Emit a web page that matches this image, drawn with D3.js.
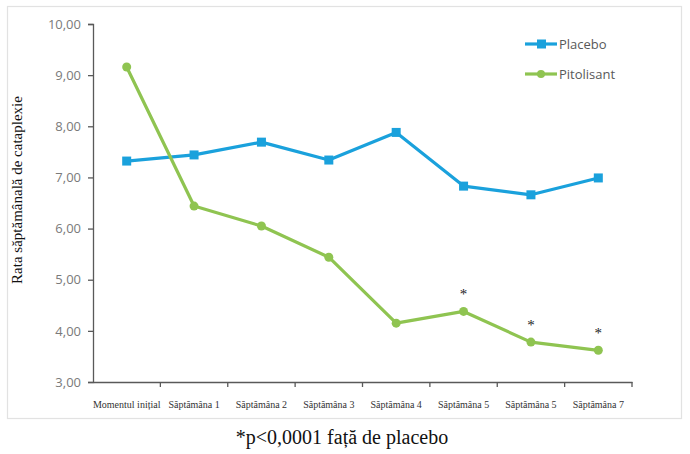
<!DOCTYPE html>
<html><head><meta charset="utf-8">
<script src="https://cdn.jsdelivr.net/npm/d3@7"></script>
<style>body{margin:0;background:#fff}</style>
</head><body>
<script>
const categories = ["Momentul inițial","Săptămâna 1","Săptămâna 2","Săptămâna 3","Săptămâna 4","Săptămâna 5","Săptămâna 5","Săptămâna 7"];
const placebo = [7.32, 7.44, 7.69, 7.34, 7.88, 6.83, 6.66, 6.99];
const pitolisant = [9.16, 6.44, 6.05, 5.44, 4.15, 4.38, 3.78, 3.62];
const significant = [false, false, false, false, false, true, true, true];
const yTicks = [3,4,5,6,7,8,9,10];
const seriesNames = ["Placebo","Pitolisant"];

const W = 690, H = 454;
const svg = d3.select("body").append("svg").attr("width", W).attr("height", H);

svg.append("rect").attr("x",7.5).attr("y",6.5).attr("width",674).attr("height",412)
  .attr("fill","none").attr("stroke","#e2e2e2").attr("stroke-width",1.2);

const x = d3.scaleBand().domain(d3.range(categories.length)).range([93, 632]);
const y = d3.scaleLinear().domain([3,10]).range([382, 24]);
const cx = i => x(i) + x.bandwidth()/2;

const fmt = v => d3.format(".2f")(v).replace(".", ",");

// y axis
const ya = svg.append("g").attr("transform","translate(93,0)")
  .call(d3.axisLeft(y).tickValues(yTicks).tickFormat(fmt).tickSizeOuter(0).tickSize(5).tickPadding(7));
ya.select(".domain").attr("stroke","#595959").attr("stroke-width",1.3);
ya.selectAll(".tick line").attr("stroke","#595959").attr("stroke-width",1.3);
ya.selectAll(".tick text").attr("fill","#7a7a7a").style("font-family","'Open Sans', 'Noto Sans', sans-serif").style("font-size","13px");

// x axis
const xa = svg.append("g").attr("transform","translate(0,382)")
  .call(d3.axisBottom(x).tickValues([]).tickSizeOuter(0));
xa.select(".domain").attr("stroke","#595959").attr("stroke-width",1.3);
const bounds = d3.range(categories.length+1).map(i => i < categories.length ? x(i) : x(categories.length-1)+x.bandwidth());
svg.append("g").selectAll("line").data(bounds.slice(1)).join("line")
  .attr("x1", d=>d).attr("x2", d=>d).attr("y1", 382).attr("y2", 387)
  .attr("stroke","#595959").attr("stroke-width",1.3);
svg.append("g").selectAll("text").data(categories).join("text")
  .attr("x", (d,i)=>cx(i)).attr("y", 408).attr("text-anchor","middle")
  .style("font-family","'Liberation Serif', 'Times New Roman', serif").style("font-size","10px")
  .attr("fill","#333").text(d=>d);

const line = d3.line().x((d,i)=>cx(i)).y(d=>y(d));
const blue = "#1aa1dc", green = "#8fc451";

svg.append("path").datum(placebo).attr("d", line).attr("fill","none").attr("stroke",blue).attr("stroke-width",3.2).attr("stroke-linejoin","round");
svg.append("g").selectAll("rect").data(placebo).join("rect")
  .attr("x",(d,i)=>cx(i)-4.5).attr("y",d=>y(d)-4.5).attr("width",9).attr("height",9).attr("fill",blue);

svg.append("path").datum(pitolisant).attr("d", line).attr("fill","none").attr("stroke",green).attr("stroke-width",3.2).attr("stroke-linejoin","round");
svg.append("g").selectAll("circle").data(pitolisant).join("circle")
  .attr("cx",(d,i)=>cx(i)).attr("cy",d=>y(d)).attr("r",4.5).attr("fill",green);

// significance markers
svg.append("g").selectAll("text").data(pitolisant.map((v,i)=>({v,i})).filter(d=>significant[d.i])).join("text")
  .attr("x", d=>cx(d.i)).attr("y", d=>y(d.v)-12).attr("text-anchor","middle")
  .style("font-family","'Liberation Serif', serif").style("font-size","15px").attr("fill","#222").text("*");

// legend
const leg = svg.append("g");
const legColors = [blue, green];
seriesNames.forEach((name, k) => {
  const ly = 44 + k*30;
  leg.append("line").attr("x1",525).attr("x2",557).attr("y1",ly).attr("y2",ly).attr("stroke",legColors[k]).attr("stroke-width",3.2);
  if (k===0) leg.append("rect").attr("x",537).attr("y",ly-4.5).attr("width",9).attr("height",9).attr("fill",blue);
  else leg.append("circle").attr("cx",541).attr("cy",ly).attr("r",4).attr("fill",green);
  leg.append("text").attr("x",559).attr("y",ly+4.5).text(name)
    .style("font-family","'Open Sans', 'Noto Sans', sans-serif").style("font-size","13px").attr("fill","#595959");
});

// y title
svg.append("text").attr("transform","translate(22,190) rotate(-90)").attr("text-anchor","middle")
  .style("font-family","'Liberation Serif', 'Times New Roman', serif").style("font-size","15px").attr("fill","#111")
  .text("Rata săptămânală de cataplexie");

// footnote
svg.append("text").attr("x",342).attr("y",444).attr("text-anchor","middle")
  .style("font-family","'Liberation Serif', 'Times New Roman', serif").style("font-size","20px").attr("fill","#111")
  .text("*p<0,0001 față de placebo");
</script>
</body></html>
